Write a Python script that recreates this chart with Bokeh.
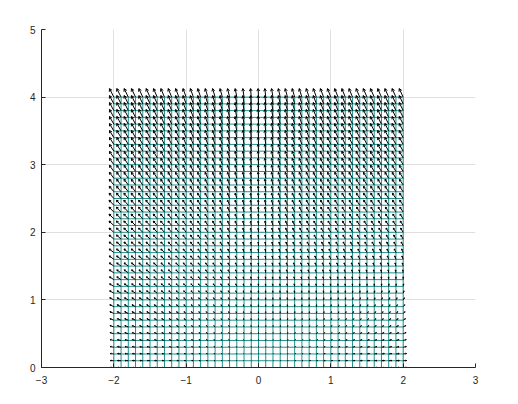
import math
from bokeh.plotting import figure
from bokeh.models import Range1d, ColumnDataSource, FixedTicker
from bokeh.embed import file_html
from bokeh.resources import INLINE

# grid node positions
xs = [-2.0, -1.9, -1.8, -1.7, -1.6, -1.5, -1.4, -1.3, -1.2, -1.1, -1.0,
      -0.9, -0.8, -0.7, -0.6, -0.5, -0.4, -0.3, -0.2, -0.1, 0.0,
      0.1, 0.2, 0.3, 0.4, 0.5, 0.6, 0.7, 0.8, 0.9, 1.0,
      1.1, 1.2, 1.3, 1.4, 1.5, 1.6, 1.7, 1.8, 1.9, 2.0]
ys = [0.0, 0.1, 0.2, 0.3, 0.4, 0.5, 0.6, 0.7, 0.8, 0.9, 1.0,
      1.1, 1.2, 1.3, 1.4, 1.5, 1.6, 1.7, 1.8, 1.9, 2.0,
      2.1, 2.2, 2.3, 2.4, 2.5, 2.6, 2.7, 2.8, 2.9, 3.0,
      3.1, 3.2, 3.3, 3.4, 3.5, 3.6, 3.7, 3.8, 3.9, 4.0]

# horizontal component near the bottom, per column
u_bot = [-0.050, -0.048, -0.045, -0.043, -0.040, -0.038, -0.035, -0.033, -0.030, -0.028, -0.025,
         -0.023, -0.020, -0.018, -0.015, -0.013, -0.010, -0.008, -0.005, -0.003, 0.000,
         0.003, 0.005, 0.008, 0.010, 0.013, 0.015, 0.018, 0.020, 0.023, 0.025,
         0.028, 0.030, 0.033, 0.035, 0.038, 0.040, 0.043, 0.045, 0.048, 0.050]
# horizontal component in the upper part, per column
u_top = [-0.060, -0.059, -0.057, -0.056, -0.054, -0.053, -0.051, -0.050, -0.048, -0.046, -0.044,
         -0.042, -0.040, -0.037, -0.034, -0.031, -0.027, -0.022, -0.016, -0.010, -0.005,
         -0.012, -0.019, -0.025, -0.030, -0.034, -0.037, -0.040, -0.042, -0.044, -0.046,
         -0.047, -0.048, -0.049, -0.050, -0.051, -0.052, -0.052, -0.053, -0.053, -0.054]
# per-row weights of the two horizontal profiles
w_bot = [1.00, 0.98, 0.96, 0.94, 0.92, 0.90, 0.87, 0.84, 0.80, 0.76, 0.72,
         0.67, 0.62, 0.57, 0.52, 0.47, 0.42, 0.37, 0.32, 0.28, 0.24,
         0.20, 0.17, 0.14, 0.11, 0.09, 0.07, 0.05, 0.04, 0.03, 0.02,
         0.01, 0.01, 0.0, 0.0, 0.0, 0.0, 0.0, 0.0, 0.0, 0.0]
w_top = [0.00, 0.01, 0.03, 0.05, 0.08, 0.11, 0.15, 0.19, 0.24, 0.29, 0.34,
         0.40, 0.46, 0.52, 0.58, 0.64, 0.70, 0.75, 0.80, 0.85, 0.89,
         0.93, 0.96, 0.98, 1.00, 1.00, 1.00, 1.00, 1.00, 1.00, 1.00,
         1.00, 1.00, 1.00, 1.00, 1.00, 1.00, 1.00, 1.00, 1.00, 1.00]
# vertical component per row
v_row = [0.000, 0.003, 0.006, 0.009, 0.012, 0.016, 0.019, 0.022, 0.025, 0.028, 0.031,
         0.034, 0.037, 0.041, 0.044, 0.047, 0.050, 0.053, 0.056, 0.059, 0.062,
         0.066, 0.069, 0.072, 0.075, 0.078, 0.081, 0.084, 0.087, 0.091, 0.094,
         0.097, 0.100, 0.103, 0.106, 0.109, 0.112, 0.116, 0.119, 0.122, 0.125]

x_ticks = [-3, -2, -1, 0, 1, 2, 3]
y_ticks = [0, 1, 2, 3, 4, 5]

TEAL = "#21918c"
AX = "#262626"
FONT = "Liberation Sans"

p = figure(width=502, height=388, x_range=Range1d(-3, 3), y_range=Range1d(0, 5),
           output_backend="svg", toolbar_location=None,
           min_border_left=41, min_border_right=27, min_border_top=29, min_border_bottom=21)
p.outline_line_color = None
p.background_fill_color = "white"
p.border_fill_color = "white"

for ax, ticks in ((p.xaxis, x_ticks), (p.yaxis, y_ticks)):
    ax.ticker = FixedTicker(ticks=ticks)
    ax.minor_tick_line_color = None
    ax.major_tick_in = 4
    ax.major_tick_out = 0
    ax.axis_line_color = AX
    ax.major_tick_line_color = AX
    ax.major_label_text_color = AX
    ax.major_label_text_font = FONT
    ax.major_label_text_font_size = "10px"
p.xaxis.major_label_standoff = 8
p.yaxis.major_label_standoff = 6
p.xgrid.ticker = FixedTicker(ticks=x_ticks)
p.ygrid.ticker = FixedTicker(ticks=y_ticks)
p.grid.grid_line_color = "#dfdfdf"
p.grid.grid_line_width = 1

# mesh lines
mesh_v = ColumnDataSource(dict(x0=xs, y0=[ys[0]] * len(xs), x1=xs, y1=[ys[-1]] * len(xs)))
mesh_h = ColumnDataSource(dict(x0=[xs[0]] * len(ys), y0=ys, x1=[xs[-1]] * len(ys), y1=ys))
p.segment("x0", "y0", "x1", "y1", source=mesh_v, line_color=TEAL, line_width=1)
p.segment("x0", "y0", "x1", "y1", source=mesh_h, line_color=TEAL, line_width=1)

# arrows
SX = 434 / 6.0   # px per x unit
SY = 338 / 5.0   # px per y unit
sx0, sy0, sx1, sy1 = [], [], [], []
hx0, hy0, hx1, hy1 = [], [], [], []
for i, y in enumerate(ys):
    for j, x in enumerate(xs):
        u = u_bot[j] * w_bot[i] + u_top[j] * w_top[i]
        v = v_row[i]
        tx, ty = x + u, y + v
        sx0.append(x); sy0.append(y); sx1.append(tx); sy1.append(ty)
        pu, pv = u * SX, v * SY
        ln = math.hypot(pu, pv)
        if ln < 1e-9:
            continue
        hl = 0.33 * ln
        ang = math.atan2(pv, pu)
        for d in (math.radians(150), math.radians(-150)):
            a = ang + d
            hx0.append(tx); hy0.append(ty)
            hx1.append(tx + hl * math.cos(a) / SX)
            hy1.append(ty + hl * math.sin(a) / SY)

p.segment(sx0, sy0, sx1, sy1, line_color="black", line_width=1)
p.segment(hx0, hy0, hx1, hy1, line_color="black", line_width=1)

open("out.html", "w").write(file_html(p, INLINE))
